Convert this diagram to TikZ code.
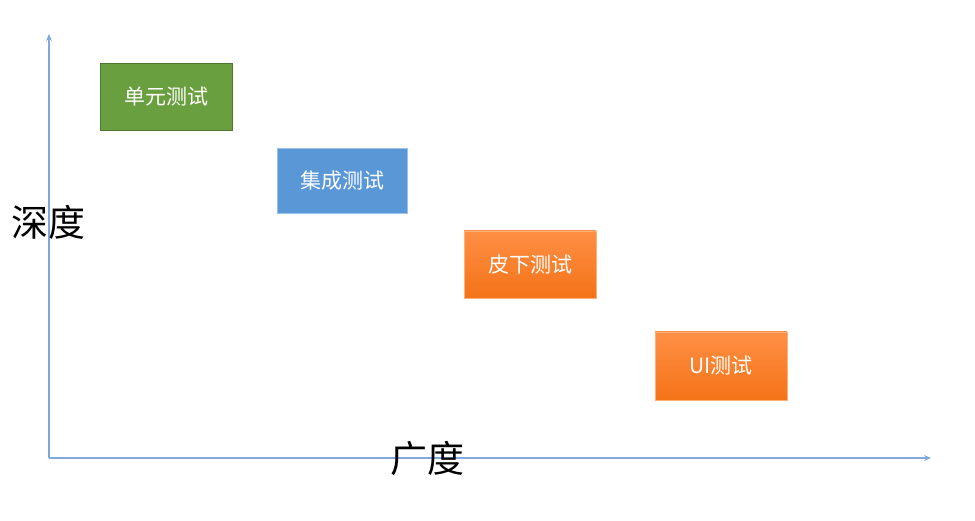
\documentclass[tikz,border=0pt]{standalone}
\usepackage{fontspec}
\usetikzlibrary{arrows.meta}
\newfontfamily\cjk{Noto Sans CJK SC}
\definecolor{axisblue}{HTML}{7FA9DC}
\definecolor{unitgreen}{HTML}{6A9F3F}
\definecolor{intblue}{HTML}{5A97D6}
\definecolor{orangetop}{HTML}{FF8F45}
\definecolor{orangebot}{HTML}{F47318}
\tikzset{
  testbox/.style={minimum width=132pt,minimum height=67pt,inner sep=0pt,text=white,font=\cjk\fontsize{21}{25}\selectfont},
  orangebox/.style={testbox,top color=orangetop,bottom color=orangebot,draw=orangetop!70!white,line width=0.6pt},
  axislabel/.style={font=\cjk\fontsize{37}{41}\selectfont,text=black,inner sep=0pt}
}
\begin{document}
\begin{tikzpicture}[x=1pt,y=-1pt,>={Stealth[length=7pt,width=6pt]}]
        \useasboundingbox(0,0)rectangle(975,521);
        \coordinate(o)at(49,458);\coordinate(ytop)at(49,34);\coordinate(xend)at(931,458);
        \draw[axisblue,line width=1.2pt,->](o)--(ytop);\draw[axisblue,line width=1.2pt,->](o)--(xend);
        \node[axislabel](depth)at(49,222){深度};
        \node[axislabel](breadth)at(427,459){广度};
        \node[testbox,fill=unitgreen,draw=unitgreen!75!black,line width=0.6pt](unit)at(166,97){单元测试};
        \node[testbox,fill=intblue,draw=intblue!60!white,line width=0.6pt,minimum width=130pt,minimum height=65pt](integ)at(342,180.5){集成测试};
        \node[orangebox](subcut)at(530,264.5){皮下测试};
        \node[orangebox,minimum height=68pt](ui)at(721,366){UI测试};
    \end{tikzpicture}
\end{document}
